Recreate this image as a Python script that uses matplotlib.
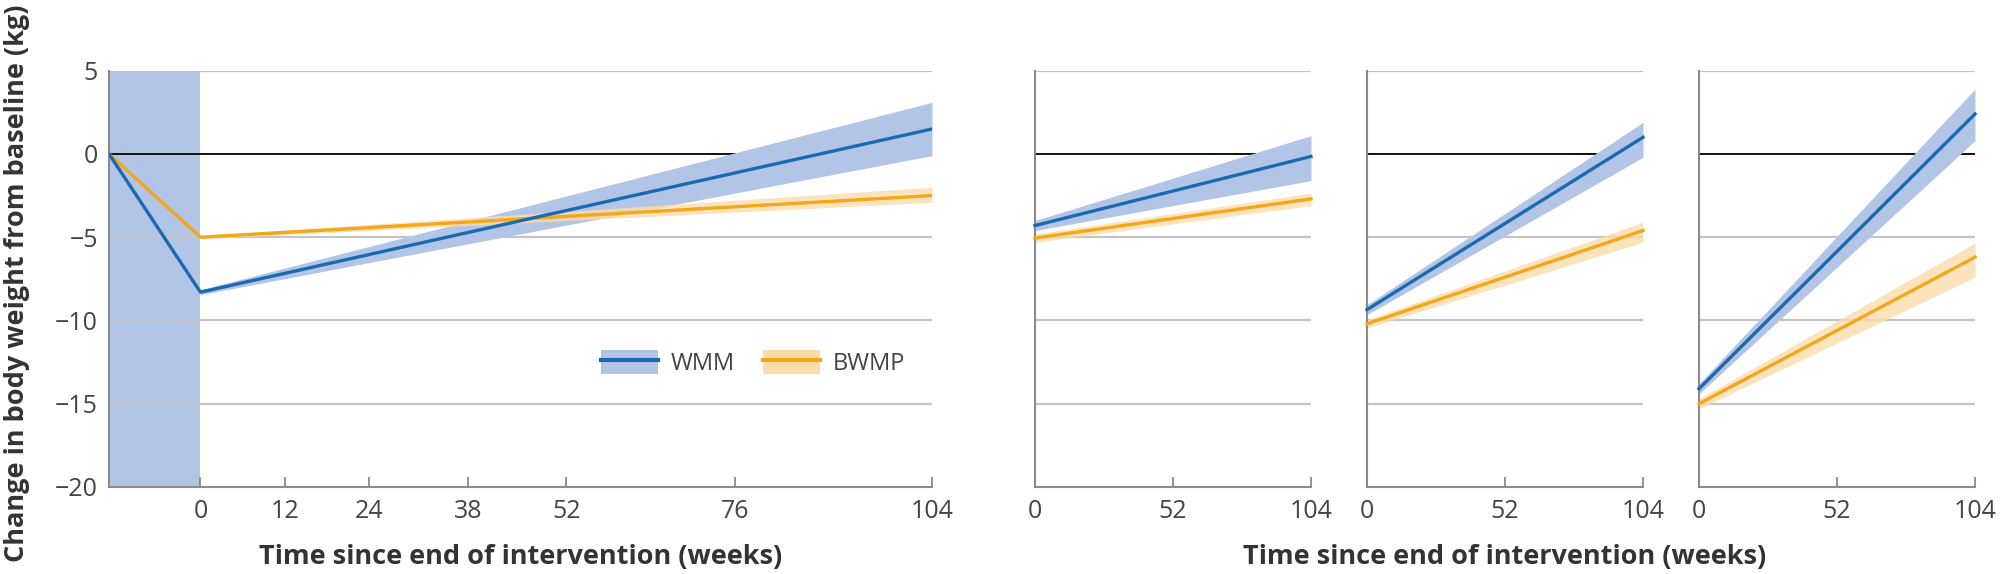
import numpy as np
import matplotlib.pyplot as plt
from matplotlib.patches import Patch
from matplotlib.lines import Line2D

plt.rcParams['font.family'] = ['Open Sans', 'DejaVu Sans']

# left panel: full trajectory (intervention start -> end -> follow up)
t_main = [-13, 0, 104]
wmm_main = [0, -8.3, 1.5]
bwmp_main = [0, -5.0, -2.5]
t_ci = [0, 104]
wmm_main_lo = [-8.45, -0.1]
wmm_main_hi = [-8.15, 3.1]
bwmp_main_lo = [-5.1, -2.9]
bwmp_main_hi = [-4.9, -2.0]

# right panels: follow up by weight loss group
t_sub = [0, 104]
wmm_sub = [[-4.3, -0.15], [-9.35, 1.0], [-14.1, 2.4]]
wmm_sub_lo = [[-4.6, -1.6], [-9.65, -0.2], [-14.4, 0.8]]
wmm_sub_hi = [[-4.0, 1.1], [-9.05, 1.9], [-13.8, 3.9]]
bwmp_sub = [[-5.05, -2.7], [-10.2, -4.6], [-15.0, -6.2]]
bwmp_sub_lo = [[-5.3, -3.1], [-10.45, -5.3], [-15.3, -7.4]]
bwmp_sub_hi = [[-4.8, -2.35], [-9.95, -4.1], [-14.7, -5.35]]

yticks = [-20, -15, -10, -5, 0, 5]

BLUE = '#1b6ab0'
BLUE_BAND = '#b3c5e6'
ORANGE = '#f3a71c'
ORANGE_BAND = '#fbdcaa'
GRID = '#c4c4c4'
SPINE = '#8a8a8a'
TXT = '#444444'


def style_axis(ax, xlim, xticks, show_y):
    ax.set_xlim(*xlim)
    ax.set_ylim(-20, 5)
    ax.set_yticks(yticks)
    ax.set_xticks(xticks)
    for y in yticks:
        if y == 0:
            ax.axhline(y, color='#111111', lw=1.4, zorder=1)
        elif y != -20:
            ax.axhline(y, color=GRID, lw=1.6, zorder=1)
    for s in ['top', 'right']:
        ax.spines[s].set_visible(False)
    for s in ['left', 'bottom']:
        ax.spines[s].set_color(SPINE)
        ax.spines[s].set_linewidth(1.5)
    ax.tick_params(axis='x', direction='in', length=7, width=1.3, color=SPINE,
                   labelsize=18, labelcolor=TXT, pad=9)
    ax.tick_params(axis='y', length=0, labelsize=18, labelcolor=TXT, pad=8,
                   labelleft=show_y)


fig = plt.figure(figsize=(20, 5.74), dpi=100)
y0, y1 = 1 - 487 / 574, 1 - 70.7 / 574

ax0 = fig.add_axes([109 / 2000, y0, (932 - 109) / 2000, y1 - y0])
style_axis(ax0, (-13, 104), [0, 12, 24, 38, 52, 76, 104], True)
ax0.axvspan(-13, 0, color=BLUE_BAND, lw=0, zorder=0)
ax0.fill_between(t_ci, wmm_main_lo, wmm_main_hi, color=BLUE_BAND, lw=0, zorder=2)
ax0.fill_between(t_ci, bwmp_main_lo, bwmp_main_hi, color=ORANGE_BAND, alpha=0.8, lw=0, zorder=2)
ax0.plot(t_main, bwmp_main, color=ORANGE, lw=2.4, zorder=3)
ax0.plot(t_main, wmm_main, color=BLUE, lw=2.4, zorder=4)

h_wmm = (Patch(color=BLUE_BAND, lw=0), Line2D([], [], color=BLUE, lw=3))
h_bwmp = (Patch(color=ORANGE_BAND, lw=0), Line2D([], [], color=ORANGE, lw=3))
leg = ax0.legend([h_wmm, h_bwmp], ['WMM', 'BWMP'], ncol=2, frameon=False,
                 loc='center left', bbox_to_anchor=((599 - 109) / (932 - 109) - 0.023,
                                                    (487 - 363) / (487 - 70.7)),
                 fontsize=17, handlelength=2.4, handleheight=1.2,
                 handletextpad=0.55, columnspacing=1.2)
for t in leg.get_texts():
    t.set_color(TXT)

ax0.set_xlabel('Time since end of intervention (weeks)', fontsize=19.5,
               fontweight='bold', color='#333333', labelpad=14)

lefts = [1035, 1367, 1699]
for i, lx in enumerate(lefts):
    ax = fig.add_axes([lx / 2000, y0, 276 / 2000, y1 - y0])
    style_axis(ax, (0, 104), [0, 52, 104], False)
    ax.fill_between(t_sub, wmm_sub_lo[i], wmm_sub_hi[i], color=BLUE_BAND, lw=0, zorder=2)
    ax.fill_between(t_sub, bwmp_sub_lo[i], bwmp_sub_hi[i], color=ORANGE_BAND, alpha=0.8, lw=0, zorder=2)
    ax.plot(t_sub, bwmp_sub[i], color=ORANGE, lw=2.4, zorder=3, clip_on=False)
    ax.plot(t_sub, wmm_sub[i], color=BLUE, lw=2.4, zorder=4, clip_on=False)

fig.text(1505 / 2000, 1 - 557 / 574, 'Time since end of intervention (weeks)',
         fontsize=19.5, fontweight='bold', color='#333333', ha='center', va='center')
fig.text(17 / 2000, 1 - 283 / 574, 'Change in body weight from baseline (kg)',
         fontsize=19.5, fontweight='bold', color='#333333', rotation=90,
         ha='center', va='center')

fig.savefig('out.png', dpi=100)
